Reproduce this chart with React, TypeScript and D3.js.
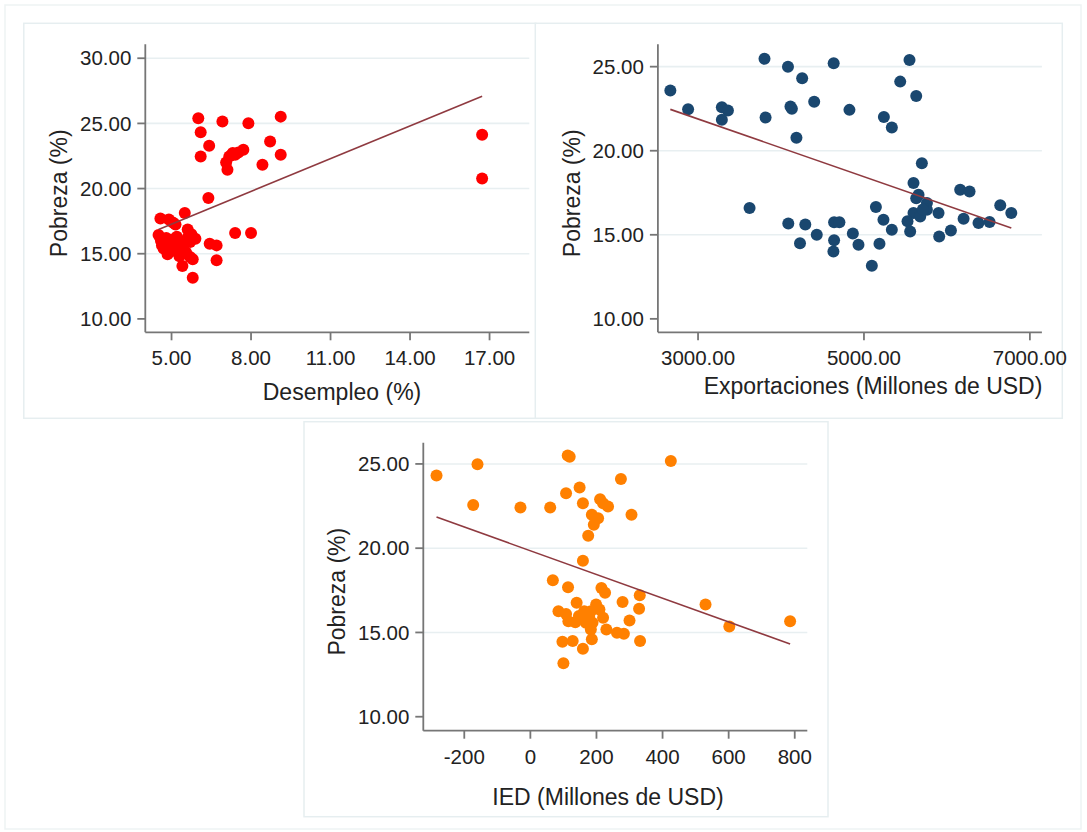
import { useEffect, useRef } from 'react';
import * as d3 from 'd3';

// Desempleo (%) vs Pobreza (%)
const desempleo = [
  4.58, 4.9, 5.05, 5.15, 5.5, 4.51, 4.6, 4.64, 4.8, 4.95, 5.03, 5.1, 5.25, 5.35, 4.85, 5.0, 5.45, 5.55,
  5.61, 5.61, 5.75, 5.9, 5.7, 5.41, 5.8, 5.7, 5.8, 6.44, 6.7, 6.7, 7.4, 8.0, 6.39, 5.2, 4.7, 5.3,
  6.01, 6.92, 7.9, 9.12, 6.1, 6.42, 6.1, 8.72, 9.12, 8.43, 7.71, 7.52, 7.31, 7.18, 7.06, 7.11, 16.72, 16.72,
  7.25, 7.4,
];
const pobrezaDesempleo = [
  17.7, 17.62, 17.4, 17.25, 18.12, 16.43, 16.0, 15.64, 16.2, 15.8, 16.1, 15.5, 15.85, 15.35, 14.95, 15.2, 15.65, 15.1,
  16.86, 16.22, 16.5, 16.15, 15.9, 14.06, 14.57, 14.75, 13.16, 15.77, 15.64, 14.49, 16.59, 16.59, 19.27, 16.3, 15.4, 14.8,
  25.4, 25.14, 25.02, 25.52, 24.33, 23.28, 22.46, 23.61, 22.59, 21.82, 22.97, 22.77, 22.72, 22.46, 22.0, 21.44, 24.13, 20.77,
  22.55, 22.6,
];

// Exportaciones (Millones de USD) vs Pobreza (%)
const exportaciones = [
  2666, 2880, 3287, 3360, 3287, 3621, 3801, 3814, 4084, 4114, 4131, 4255, 4186, 4400, 4088, 4293, 4229, 4431, 4635,
  4640, 4704, 4640, 4632, 4825, 4866, 4934, 5095, 5144, 5240, 5336, 5235, 5336, 5187, 5437, 5549, 5630, 5698, 5597,
  5658, 5630, 5759, 5759, 5597, 5678, 5525, 5557, 5899, 6160, 6273, 6201, 5907, 6048, 6381, 6514, 6643, 6776, 5710,
];
const pobrezaExportaciones = [
  23.58, 22.47, 22.59, 22.39, 21.84, 16.6, 25.47, 21.98, 25.0, 22.63, 22.5, 24.31, 20.77, 22.91, 15.67, 15.61, 14.49, 15.0, 25.2,
  15.74, 15.74, 14.68, 14.01, 22.43, 15.07, 14.41, 13.16, 16.65, 22.0, 21.38, 15.9, 15.3, 14.47, 24.11, 25.4, 23.26, 19.26, 18.08,
  17.38, 17.18, 16.89, 16.49, 16.29, 16.09, 15.8, 15.2, 16.29, 17.68, 17.58, 15.96, 14.9, 15.26, 15.7, 15.76, 16.75, 16.29, 16.5,
];

// IED (Millones de USD) vs Pobreza (%)
const ied = [
  -284, -160, -173, -30, 60, 119, 113, 425, 274, 108, 149, 159, 211, 220, 235, 306, 186, 205, 192,
  175, 159, 68, 114, 215, 226, 331, 279, 530, 329, 140, 199, 85, 108, 163, 178, 220, 300, 602,
  786, 230, 262, 283, 183, 186, 97, 128, 159, 332, 100, 115, 136, 147, 188, 209, 183, 168,
];
const pobrezaIed = [
  24.31, 24.98, 22.57, 22.42, 22.42, 25.43, 25.5, 25.18, 24.11, 23.26, 23.6, 22.67, 22.91, 22.67, 22.48, 21.98, 21.98, 21.78, 21.39,
  20.74, 19.26, 18.1, 17.68, 17.64, 17.35, 17.21, 16.81, 16.66, 16.4, 16.76, 16.66, 16.26, 16.1, 16.26, 15.92, 15.87, 15.71, 15.35,
  15.67, 15.18, 14.98, 14.92, 15.18, 14.59, 14.45, 14.49, 14.03, 14.49, 13.17, 15.67, 15.61, 15.97, 15.57, 16.36, 16.26, 15.57,
];

const desempleoTicks = [5, 8, 11, 14, 17];
const exportacionesTicks = [3000, 5000, 7000];
const iedTicks = [-200, 0, 200, 400, 600, 800];
const pobrezaTicksWide = [10, 15, 20, 25, 30];
const pobrezaTicks = [10, 15, 20, 25];

const fmt2 = d3.format('.2f');

const panels = [
  {
    box: [23.8, 23.3, 512, 395], left: 145.3, top: 44.3,
    xDomain: [4.01, 18.5], yDomain: [8.97, 31.07],
    xs: desempleo, ys: pobrezaDesempleo, xTicks: desempleoTicks, yTicks: pobrezaTicksWide,
    fmtX: fmt2, color: '#ff0000', xTitle: 'Desempleo (%)', xTitleX: 342, xTitleDy: 60,
  },
  {
    box: [535.3, 23.3, 527, 395], left: 657.9, top: 44.3,
    xDomain: [2516, 7145], yDomain: [9.2, 26.33],
    xs: exportaciones, ys: pobrezaExportaciones, xTicks: exportacionesTicks, yTicks: pobrezaTicks,
    fmtX: fmt2, color: '#1a476f', xTitle: 'Exportaciones (Millones de USD)', xTitleX: 873, xTitleDy: 54,
  },
  {
    box: [304, 421.7, 524, 395], left: 423.3, top: 442.7,
    xDomain: [-324, 838], yDomain: [9.17, 26.26],
    xs: ied, ys: pobrezaIed, xTicks: iedTicks, yTicks: pobrezaTicks,
    fmtX: (v: number) => String(v), color: '#ff8000', xTitle: 'IED (Millones de USD)', xTitleX: 608, xTitleDy: 66,
  },
];

const linearFit = (xs: number[], ys: number[]) => {
  const mx = d3.mean(xs) as number;
  const my = d3.mean(ys) as number;
  const sxy = d3.sum(xs, (x, i) => (x - mx) * (ys[i] - my));
  const sxx = d3.sum(xs, (x) => (x - mx) * (x - mx));
  const b = sxy / sxx;
  const a = my - b * mx;
  const [lo, hi] = d3.extent(xs) as [number, number];
  return [[lo, a + b * lo], [hi, a + b * hi]];
};

const App = () => {
  const svgRef = useRef<SVGSVGElement>(null);

  useEffect(() => {
    const svg = d3.select(svgRef.current);
    svg.selectAll('*').remove();

    const font = '"Liberation Sans", Arial, sans-serif';
    const w = 384;
    const h = 288;

    svg.append('rect')
      .attr('x', 5).attr('y', 5).attr('width', 1076).attr('height', 824)
      .attr('fill', '#fff').attr('stroke', '#eef3f4').attr('stroke-width', 1.5);

    panels.forEach((p) => {
      svg.append('rect')
        .attr('x', p.box[0]).attr('y', p.box[1]).attr('width', p.box[2]).attr('height', p.box[3])
        .attr('fill', '#fff').attr('stroke', '#e6eef0').attr('stroke-width', 1.5);

      const g = svg.append('g').attr('transform', `translate(${p.left},${p.top})`);
      const x = d3.scaleLinear().domain(p.xDomain).range([0, w]);
      const y = d3.scaleLinear().domain(p.yDomain).range([h, 0]);

      // grid
      g.selectAll('.grid')
        .data(p.yTicks.filter((t) => t !== 10))
        .enter().append('line')
        .attr('x1', 0).attr('x2', w)
        .attr('y1', (d) => y(d)).attr('y2', (d) => y(d))
        .attr('stroke', '#e8eff1').attr('stroke-width', 1.6);

      // points
      g.selectAll('.pt')
        .data(p.xs.map((v, i) => [v, p.ys[i]]))
        .enter().append('circle')
        .attr('cx', (d) => x(d[0])).attr('cy', (d) => y(d[1]))
        .attr('r', 6).attr('fill', p.color);

      // fitted line
      const fit = linearFit(p.xs, p.ys);
      g.append('path')
        .attr('d', d3.line()(fit.map((d) => [x(d[0]), y(d[1])]) as [number, number][]))
        .attr('stroke', '#8f3a40').attr('stroke-width', 1.6).attr('fill', 'none');

      // axes
      const axisColor = '#767676';
      g.append('line').attr('x1', 0).attr('x2', 0).attr('y1', 0).attr('y2', h)
        .attr('stroke', axisColor).attr('stroke-width', 1.8);
      g.append('line').attr('x1', 0).attr('x2', w).attr('y1', h).attr('y2', h)
        .attr('stroke', axisColor).attr('stroke-width', 1.8);

      g.selectAll('.ytick')
        .data(p.yTicks)
        .enter().append('line')
        .attr('x1', -8).attr('x2', 0)
        .attr('y1', (d) => y(d)).attr('y2', (d) => y(d))
        .attr('stroke', axisColor).attr('stroke-width', 1.8);
      g.selectAll('.ylab')
        .data(p.yTicks)
        .enter().append('text')
        .attr('x', -14).attr('y', (d) => y(d))
        .attr('dy', '0.35em').attr('text-anchor', 'end')
        .attr('font-family', font).attr('font-size', 20.5).attr('fill', '#222')
        .text((d) => fmt2(d));

      g.selectAll('.xtick')
        .data(p.xTicks)
        .enter().append('line')
        .attr('x1', (d) => x(d)).attr('x2', (d) => x(d))
        .attr('y1', h).attr('y2', h + 8)
        .attr('stroke', axisColor).attr('stroke-width', 1.8);
      g.selectAll('.xlab')
        .data(p.xTicks)
        .enter().append('text')
        .attr('x', (d) => x(d)).attr('y', h + 26)
        .attr('dy', '0.35em').attr('text-anchor', 'middle')
        .attr('font-family', font).attr('font-size', 20.5).attr('fill', '#222')
        .text((d) => p.fmtX(d));

      // titles
      svg.append('text')
        .attr('x', p.xTitleX).attr('y', p.top + h + p.xTitleDy)
        .attr('dy', '0.35em').attr('text-anchor', 'middle')
        .attr('font-family', font).attr('font-size', 23).attr('fill', '#222')
        .text(p.xTitle);
      svg.append('text')
        .attr('transform', `translate(${p.left - 86},${p.top + h / 2 + 5}) rotate(-90)`)
        .attr('dy', '0.35em').attr('text-anchor', 'middle')
        .attr('font-family', font).attr('font-size', 23).attr('fill', '#222')
        .text('Pobreza (%)');
    });
  }, []);

  return (
    <svg
      ref={svgRef}
      width={1087}
      height={832}
      style={{ position: 'absolute', left: 0, top: 0, display: 'block' }}
    />
  );
};

export default App;
